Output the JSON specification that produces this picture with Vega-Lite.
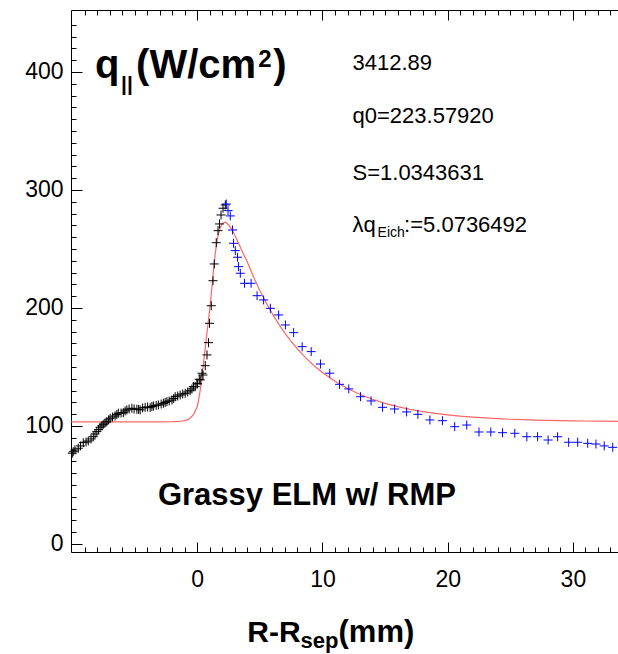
{
  "$schema": "https://vega.github.io/schema/vega-lite/v6.json",
  "width": 547,
  "height": 542,
  "autosize": "none",
  "padding": {"left": 71, "top": 10, "right": 0, "bottom": 102},
  "background": "white",
  "config": {"view": {"stroke": null}},
  "datasets": {
    "meas": [
      {"x": -9.98, "q": 76.9, "s": "inner"}, {"x": -9.9, "q": 78.2, "s": "inner"}, {"x": -9.76, "q": 79.7, "s": "inner"}, {"x": -9.5, "q": 81.1, "s": "inner"}, {"x": -9.32, "q": 83.1, "s": "inner"}, {"x": -9.1, "q": 85.8, "s": "inner"}, {"x": -8.88, "q": 86.4, "s": "inner"}, {"x": -8.7, "q": 87.3, "s": "inner"}, {"x": -8.48, "q": 89.0, "s": "inner"}, {"x": -8.3, "q": 90.9, "s": "inner"}, {"x": -8.16, "q": 93.2, "s": "inner"}, {"x": -8.02, "q": 95.2, "s": "inner"}, {"x": -7.88, "q": 97.0, "s": "inner"}, {"x": -7.76, "q": 98.9, "s": "inner"}, {"x": -7.62, "q": 100.0, "s": "inner"}, {"x": -7.5, "q": 101.4, "s": "inner"}, {"x": -7.36, "q": 102.5, "s": "inner"}, {"x": -7.22, "q": 103.6, "s": "inner"}, {"x": -7.08, "q": 105.1, "s": "inner"}, {"x": -6.96, "q": 106.5, "s": "inner"}, {"x": -6.76, "q": 107.6, "s": "inner"}, {"x": -6.56, "q": 108.5, "s": "inner"}, {"x": -6.42, "q": 109.7, "s": "inner"}, {"x": -6.3, "q": 110.8, "s": "inner"}, {"x": -6.08, "q": 111.0, "s": "inner"}, {"x": -5.9, "q": 111.3, "s": "inner"}, {"x": -5.76, "q": 112.7, "s": "inner"}, {"x": -5.62, "q": 113.6, "s": "inner"}, {"x": -5.44, "q": 114.4, "s": "inner"}, {"x": -5.22, "q": 115.0, "s": "inner"}, {"x": -5.04, "q": 114.4, "s": "inner"}, {"x": -4.82, "q": 114.2, "s": "inner"}, {"x": -4.68, "q": 114.0, "s": "inner"}, {"x": -4.56, "q": 113.6, "s": "inner"}, {"x": -4.36, "q": 115.3, "s": "inner"}, {"x": -4.16, "q": 115.8, "s": "inner"}, {"x": -3.96, "q": 116.1, "s": "inner"}, {"x": -3.76, "q": 115.5, "s": "inner"}, {"x": -3.62, "q": 116.5, "s": "inner"}, {"x": -3.5, "q": 116.9, "s": "inner"}, {"x": -3.28, "q": 117.4, "s": "inner"}, {"x": -3.1, "q": 117.8, "s": "inner"}, {"x": -2.88, "q": 118.6, "s": "inner"}, {"x": -2.7, "q": 119.2, "s": "inner"}, {"x": -2.56, "q": 119.9, "s": "inner"}, {"x": -2.42, "q": 120.6, "s": "inner"}, {"x": -2.24, "q": 121.2, "s": "inner"}, {"x": -2.02, "q": 122.0, "s": "inner"}, {"x": -1.88, "q": 123.3, "s": "inner"}, {"x": -1.76, "q": 124.8, "s": "inner"}, {"x": -1.56, "q": 125.4, "s": "inner"}, {"x": -1.36, "q": 126.3, "s": "inner"}, {"x": -1.16, "q": 127.1, "s": "inner"}, {"x": -0.96, "q": 127.7, "s": "inner"}, {"x": -0.76, "q": 128.8, "s": "inner"}, {"x": -0.56, "q": 129.9, "s": "inner"}, {"x": -0.42, "q": 131.4, "s": "inner"}, {"x": -0.3, "q": 133.3, "s": "inner"}, {"x": -0.16, "q": 133.3, "s": "inner"}, {"x": -0.02, "q": 136.2, "s": "inner"}, {"x": 0.02, "q": 135.6, "s": "inner"}, {"x": 0.16, "q": 139.6, "s": "inner"}, {"x": 0.24, "q": 139.0, "s": "inner"}, {"x": 0.38, "q": 144.7, "s": "inner"}, {"x": 0.46, "q": 143.2, "s": "inner"}, {"x": 0.64, "q": 151.1, "s": "inner"}, {"x": 0.78, "q": 160.2, "s": "inner"}, {"x": 0.9, "q": 170.6, "s": "inner"}, {"x": 0.98, "q": 187.0, "s": "inner"}, {"x": 1.12, "q": 201.9, "s": "inner"}, {"x": 1.26, "q": 223.1, "s": "inner"}, {"x": 1.36, "q": 237.3, "s": "inner"}, {"x": 1.52, "q": 255.3, "s": "inner"}, {"x": 1.66, "q": 265.5, "s": "inner"}, {"x": 1.78, "q": 271.2, "s": "inner"}, {"x": 1.9, "q": 278.8, "s": "inner"}, {"x": 2.06, "q": 284.5, "s": "inner"}, {"x": 2.24, "q": 287.3, "s": "inner"},
      {"x": 2.32, "q": 288.1, "s": "outer"}, {"x": 2.46, "q": 282.5, "s": "outer"}, {"x": 2.64, "q": 278.0, "s": "outer"}, {"x": 2.82, "q": 266.1, "s": "outer"}, {"x": 2.9, "q": 254.8, "s": "outer"}, {"x": 3.04, "q": 248.6, "s": "outer"}, {"x": 3.22, "q": 243.0, "s": "outer"}, {"x": 3.3, "q": 235.0, "s": "outer"}, {"x": 3.44, "q": 229.4, "s": "outer"}, {"x": 3.78, "q": 220.9, "s": "outer"}, {"x": 4.3, "q": 220.9, "s": "outer"}, {"x": 4.78, "q": 210.4, "s": "outer"}, {"x": 5.3, "q": 206.8, "s": "outer"}, {"x": 5.84, "q": 199.7, "s": "outer"}, {"x": 6.5, "q": 194.1, "s": "outer"}, {"x": 7.04, "q": 185.6, "s": "outer"}, {"x": 7.7, "q": 179.1, "s": "outer"}, {"x": 8.38, "q": 167.2, "s": "outer"}, {"x": 9.1, "q": 163.0, "s": "outer"}, {"x": 9.84, "q": 152.5, "s": "outer"}, {"x": 10.58, "q": 144.7, "s": "outer"}, {"x": 11.36, "q": 135.3, "s": "outer"}, {"x": 12.1, "q": 131.4, "s": "outer"}, {"x": 13.04, "q": 124.8, "s": "outer"}, {"x": 13.88, "q": 121.2, "s": "outer"}, {"x": 14.8, "q": 115.8, "s": "outer"}, {"x": 15.76, "q": 114.4, "s": "outer"}, {"x": 16.72, "q": 111.9, "s": "outer"}, {"x": 17.62, "q": 109.9, "s": "outer"}, {"x": 18.58, "q": 105.1, "s": "outer"}, {"x": 19.58, "q": 104.5, "s": "outer"}, {"x": 20.56, "q": 99.4, "s": "outer"}, {"x": 21.52, "q": 100.8, "s": "outer"}, {"x": 22.5, "q": 94.9, "s": "outer"}, {"x": 23.44, "q": 94.9, "s": "outer"}, {"x": 24.38, "q": 94.3, "s": "outer"}, {"x": 25.36, "q": 93.8, "s": "outer"}, {"x": 26.32, "q": 90.9, "s": "outer"}, {"x": 27.18, "q": 90.9, "s": "outer"}, {"x": 28.02, "q": 88.1, "s": "outer"}, {"x": 28.78, "q": 90.9, "s": "outer"}, {"x": 29.66, "q": 86.2, "s": "outer"}, {"x": 30.38, "q": 86.2, "s": "outer"}, {"x": 31.18, "q": 85.3, "s": "outer"}, {"x": 31.84, "q": 84.7, "s": "outer"}, {"x": 32.5, "q": 83.1, "s": "outer"}, {"x": 33.18, "q": 81.9, "s": "outer"}
    ],
    "fit": [
      {"x": -10.08, "q": 103.5}, {"x": -3, "q": 103.5}, {"x": -2, "q": 103.6}, {"x": -1.5, "q": 103.8}, {"x": -1.0, "q": 104.5}, {"x": -0.75, "q": 105.5}, {"x": -0.5, "q": 107.2}, {"x": -0.25, "q": 110.5}, {"x": 0, "q": 116.5}, {"x": 0.12, "q": 122.5}, {"x": 0.24, "q": 130.5}, {"x": 0.37, "q": 141}, {"x": 0.5, "q": 153}, {"x": 0.64, "q": 166}, {"x": 0.78, "q": 179}, {"x": 0.9, "q": 190}, {"x": 1.05, "q": 204}, {"x": 1.17, "q": 217}, {"x": 1.3, "q": 232}, {"x": 1.44, "q": 246}, {"x": 1.57, "q": 256}, {"x": 1.7, "q": 263.5}, {"x": 1.85, "q": 268.5}, {"x": 2.0, "q": 271.5}, {"x": 2.24, "q": 272.8}, {"x": 2.5, "q": 270.5}, {"x": 2.8, "q": 266}, {"x": 3.1, "q": 259.5}, {"x": 3.4, "q": 252.5}, {"x": 3.7, "q": 245.5}, {"x": 4.0, "q": 239}, {"x": 4.5, "q": 226.3}, {"x": 5.0, "q": 214.8}, {"x": 5.5, "q": 204.5}, {"x": 6.0, "q": 195}, {"x": 6.5, "q": 186.5}, {"x": 7, "q": 178.7}, {"x": 7.5, "q": 171.7}, {"x": 8, "q": 165.3}, {"x": 8.5, "q": 159.6}, {"x": 9, "q": 154.3}, {"x": 9.5, "q": 149.6}, {"x": 10, "q": 145.3}, {"x": 11, "q": 137.8}, {"x": 12, "q": 131.7}, {"x": 13, "q": 126.7}, {"x": 14, "q": 122.6}, {"x": 15, "q": 119.2}, {"x": 16, "q": 116.4}, {"x": 17, "q": 114.1}, {"x": 18, "q": 112.2}, {"x": 19, "q": 110.7}, {"x": 20, "q": 109.4}, {"x": 21, "q": 108.3}, {"x": 22, "q": 107.5}, {"x": 23, "q": 106.8}, {"x": 24, "q": 106.2}, {"x": 25, "q": 105.7}, {"x": 26, "q": 105.3}, {"x": 27, "q": 105.0}, {"x": 28, "q": 104.7}, {"x": 29, "q": 104.5}, {"x": 30, "q": 104.3}, {"x": 31, "q": 104.2}, {"x": 32, "q": 104.1}, {"x": 33.6, "q": 103.9}
    ],
    "one": [{}]
  },
  "resolve": {"axis": {"x": "independent", "y": "independent"}},
  "layer": [
    {
      "data": {"name": "fit"},
      "mark": {"type": "line", "color": "#ff4a4a", "strokeWidth": 1.2, "opacity": 0.85, "clip": true},
      "encoding": {
        "x": {"field": "x", "type": "quantitative", "scale": {"domain": [-10.08, 33.6], "nice": false, "zero": false},
          "axis": {"orient": "top", "values": [-9,-8,-7,-6,-5,-4,-3,-2,-1,0,1,2,3,4,5,6,7,8,9,10,11,12,13,14,15,16,17,18,19,20,21,22,23,24,25,26,27,28,29,30,31,32,33],
            "labels": false, "title": null, "grid": false, "domainColor": "black", "domainWidth": 1, "tickColor": "black", "tickWidth": 1,
            "tickSize": {"expr": "datum.value % 10 === 0 ? -10 : -5"}}},
        "y": {"field": "q", "type": "quantitative", "scale": {"domain": [-6.8, 452.5], "nice": false, "zero": false}, "axis": null}
      }
    },
    {
      "data": {"name": "meas"},
      "mark": {"type": "point", "shape": "M-1,0L1,0M0,-1L0,1", "filled": false, "size": 81, "strokeWidth": 1, "opacity": 1},
      "encoding": {
        "x": {"field": "x", "type": "quantitative",
          "axis": {"orient": "bottom", "values": [-9,-8,-7,-6,-5,-4,-3,-2,-1,0,1,2,3,4,5,6,7,8,9,10,11,12,13,14,15,16,17,18,19,20,21,22,23,24,25,26,27,28,29,30,31,32,33],
            "labelExpr": "datum.value % 10 === 0 ? datum.label : ''", "title": null, "grid": false,
            "domainColor": "black", "domainWidth": 1, "tickColor": "black", "tickWidth": 1,
            "tickSize": {"expr": "datum.value % 10 === 0 ? -10 : -5"},
            "labelFont": "Liberation Sans", "labelFontSize": 23, "labelColor": "black", "labelPadding": 26,
            "labelOverlap": false, "labelFlush": false, "labelBound": false}},
        "y": {"field": "q", "type": "quantitative",
          "axis": {"orient": "left", "values": [0,10,20,30,40,50,60,70,80,90,100,110,120,130,140,150,160,170,180,190,200,210,220,230,240,250,260,270,280,290,300,310,320,330,340,350,360,370,380,390,400,410,420,430,440],
            "labelExpr": "datum.value % 100 === 0 ? datum.label : ''", "title": null, "grid": false,
            "domainColor": "black", "domainWidth": 1, "tickColor": "black", "tickWidth": 1,
            "tickSize": {"expr": "datum.value % 100 === 0 ? -11 : -5"},
            "labelFont": "Liberation Sans", "labelFontSize": 23, "labelColor": "black", "labelPadding": 19,
            "labelOverlap": false, "labelFlush": false, "labelBound": false}},
        "color": {"field": "s", "type": "nominal", "scale": {"domain": ["inner", "outer"], "range": ["#000000", "#0000ff"]}, "legend": null}
      }
    },
    {"data": {"name": "one"}, "mark": {"type": "text", "text": "q", "align": "left", "baseline": "alphabetic", "font": "Liberation Sans", "fontSize": 40, "fontWeight": "bold", "color": "black"},
     "encoding": {"x": {"datum": -8.16, "type": "quantitative", "axis": null}, "y": {"datum": 394.9, "type": "quantitative", "axis": null}}},
    {"data": {"name": "one"}, "mark": {"type": "text", "text": "||", "align": "left", "baseline": "alphabetic", "font": "Liberation Sans", "fontSize": 21, "fontWeight": "bold", "color": "black"},
     "encoding": {"x": {"datum": -6.08, "type": "quantitative", "axis": null}, "y": {"datum": 383.9, "type": "quantitative", "axis": null}}},
    {"data": {"name": "one"}, "mark": {"type": "text", "text": "(W/cm", "align": "left", "baseline": "alphabetic", "font": "Liberation Sans", "fontSize": 40, "fontWeight": "bold", "color": "black"},
     "encoding": {"x": {"datum": -4.88, "type": "quantitative", "axis": null}, "y": {"datum": 394.9, "type": "quantitative", "axis": null}}},
    {"data": {"name": "one"}, "mark": {"type": "text", "text": "2", "align": "left", "baseline": "alphabetic", "font": "Liberation Sans", "fontSize": 24, "fontWeight": "bold", "color": "black"},
     "encoding": {"x": {"datum": 4.88, "type": "quantitative", "axis": null}, "y": {"datum": 404.5, "type": "quantitative", "axis": null}}},
    {"data": {"name": "one"}, "mark": {"type": "text", "text": ")", "align": "left", "baseline": "alphabetic", "font": "Liberation Sans", "fontSize": 40, "fontWeight": "bold", "color": "black"},
     "encoding": {"x": {"datum": 6.08, "type": "quantitative", "axis": null}, "y": {"datum": 394.9, "type": "quantitative", "axis": null}}},
    {"data": {"name": "one"}, "mark": {"type": "text", "text": "3412.89", "align": "left", "baseline": "alphabetic", "font": "Liberation Sans", "fontSize": 22, "color": "black"},
     "encoding": {"x": {"datum": 12.4, "type": "quantitative", "axis": null}, "y": {"datum": 401.7, "type": "quantitative", "axis": null}}},
    {"data": {"name": "one"}, "mark": {"type": "text", "text": "q0=223.57920", "align": "left", "baseline": "alphabetic", "font": "Liberation Sans", "fontSize": 22, "color": "black"},
     "encoding": {"x": {"datum": 12.4, "type": "quantitative", "axis": null}, "y": {"datum": 356.5, "type": "quantitative", "axis": null}}},
    {"data": {"name": "one"}, "mark": {"type": "text", "text": "S=1.0343631", "align": "left", "baseline": "alphabetic", "font": "Liberation Sans", "fontSize": 22, "color": "black"},
     "encoding": {"x": {"datum": 12.4, "type": "quantitative", "axis": null}, "y": {"datum": 308.5, "type": "quantitative", "axis": null}}},
    {"data": {"name": "one"}, "mark": {"type": "text", "text": "λq", "align": "left", "baseline": "alphabetic", "font": "Liberation Sans", "fontSize": 22, "color": "black"},
     "encoding": {"x": {"datum": 12.4, "type": "quantitative", "axis": null}, "y": {"datum": 264.7, "type": "quantitative", "axis": null}}},
    {"data": {"name": "one"}, "mark": {"type": "text", "text": "Eich", "align": "left", "baseline": "alphabetic", "font": "Liberation Sans", "fontSize": 14, "color": "black"},
     "encoding": {"x": {"datum": 14.4, "type": "quantitative", "axis": null}, "y": {"datum": 260.2, "type": "quantitative", "axis": null}}},
    {"data": {"name": "one"}, "mark": {"type": "text", "text": ":=5.0736492", "align": "left", "baseline": "alphabetic", "font": "Liberation Sans", "fontSize": 22, "color": "black"},
     "encoding": {"x": {"datum": 16.52, "type": "quantitative", "axis": null}, "y": {"datum": 264.7, "type": "quantitative", "axis": null}}},
    {"data": {"name": "one"}, "mark": {"type": "text", "text": "Grassy ELM w/ RMP", "align": "center", "baseline": "alphabetic", "font": "Liberation Sans", "fontSize": 31, "fontWeight": "bold", "color": "black"},
     "encoding": {"x": {"datum": 8.76, "type": "quantitative", "axis": null}, "y": {"datum": 33.05, "type": "quantitative", "axis": null}}},
    {"data": {"name": "one"}, "mark": {"type": "text", "text": "R-R", "align": "left", "baseline": "alphabetic", "font": "Liberation Sans", "fontSize": 30, "fontWeight": "bold", "color": "black"},
     "encoding": {"x": {"datum": 4.0, "type": "quantitative", "axis": null}, "y": {"datum": -82.8, "type": "quantitative", "axis": null}}},
    {"data": {"name": "one"}, "mark": {"type": "text", "text": "sep", "align": "left", "baseline": "alphabetic", "font": "Liberation Sans", "fontSize": 22, "fontWeight": "bold", "color": "black"},
     "encoding": {"x": {"datum": 8.24, "type": "quantitative", "axis": null}, "y": {"datum": -88.1, "type": "quantitative", "axis": null}}},
    {"data": {"name": "one"}, "mark": {"type": "text", "text": "(mm)", "align": "left", "baseline": "alphabetic", "font": "Liberation Sans", "fontSize": 31, "fontWeight": "bold", "color": "black"},
     "encoding": {"x": {"datum": 11.28, "type": "quantitative", "axis": null}, "y": {"datum": -82.8, "type": "quantitative", "axis": null}}}
  ]
}
